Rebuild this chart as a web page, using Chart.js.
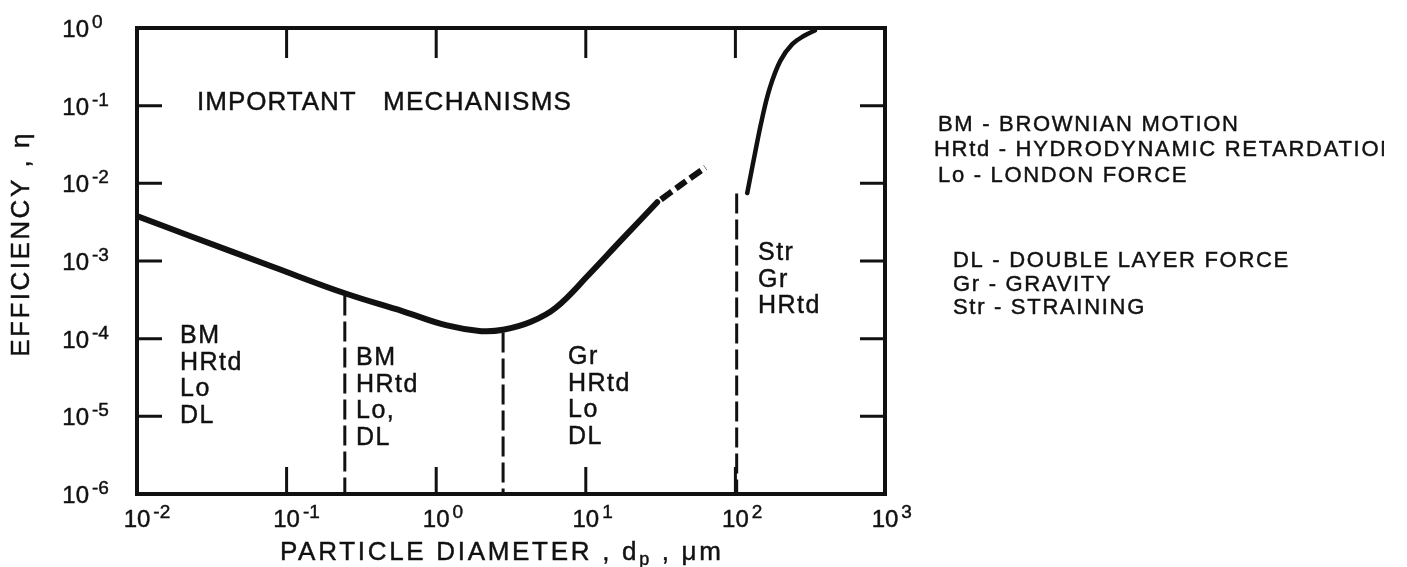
<!DOCTYPE html>
<html>
<head>
<meta charset="utf-8">
<script src="https://cdn.jsdelivr.net/npm/chart.js@4.4.1/dist/chart.umd.min.js"></script>
<style>
    html, body { margin: 0; padding: 0; background: #fff; }
    #wrap { width: 1407px; height: 567px; position: relative; }
</style>
</head>
<body>
<div id="wrap"><canvas id="eff"></canvas></div>
<script>
// ─────────────────────────────
// DATA
// ─────────────────────────────
const curveX = [0.01, 0.0226, 0.0824, 0.245, 0.6, 1.18, 2.0, 2.8, 4.3, 6.3, 10.5, 17, 30];
const curveY = [3.8e-3, 2.1e-3, 8.3e-4, 3.84e-4, 2.25e-4, 1.48e-4, 1.25e-4, 1.3e-4, 1.65e-4, 2.5e-4, 6.7e-4, 1.8e-3, 5.7e-3];

const dashX = [30, 44, 63];
const dashY = [5.7e-3, 9.8e-3, 1.6e-2];

const strX = [120, 135, 150, 170, 200, 240, 290, 340];
const strY = [7.5e-3, 2.4e-2, 6.5e-2, 0.17, 0.38, 0.62, 0.80, 0.93];

// zone boundaries: x position and where the dashed line starts at the top
const bounds = [0.245, 2.8, 102];
const boundTop = [3.6e-4, 1.2e-4, 7.4e-3];

const xDecades = [-2, -1, 0, 1, 2, 3];
const yDecades = [0, -1, -2, -3, -4, -5, -6];

const zoneText = [
    ["BM", "HRtd", "Lo", "DL"],
    ["BM", "HRtd", "Lo,", "DL"],
    ["Gr", "HRtd", "Lo", "DL"],
    ["Str", "Gr", "HRtd"]
];

const keyText = [
    "BM - BROWNIAN MOTION",
    "HRtd - HYDRODYNAMIC RETARDATION",
    "Lo - LONDON FORCE",
    "DL - DOUBLE LAYER FORCE",
    "Gr - GRAVITY",
    "Str - STRAINING"
];

// ─────────────────────────────
// HELPERS
// ─────────────────────────────
const INK = "#111";
const FONT = '"Liberation Sans", Arial, sans-serif';

function pts(xs, ys) {
    return xs.map((x, i) => ({ x: x, y: ys[i] }));
}

// filled + thin stroke, to get the heavier lettering of the scan
function ink(ctx, s, x, y) {
    ctx.fillText(s, x, y);
    ctx.strokeText(s, x, y);
}

function txt(ctx, s, x, y, size, ls, align) {
    ctx.font = size + "px " + FONT;
    ctx.letterSpacing = ls + "px";
    ctx.textAlign = align || "left";
    ink(ctx, s, x, y);
}

function powLabel(ctx, e, x, y, anchor) {
    ctx.letterSpacing = "0px";
    ctx.textAlign = "left";
    ctx.font = "24px " + FONT;
    const bw = ctx.measureText("10").width;
    const bx = anchor === "right" ? x - bw : x - bw / 2;
    ink(ctx, "10", bx, y);
    ctx.font = "19px " + FONT;
    ink(ctx, String(e), bx + bw + 3, y - 9);
}

// ─────────────────────────────
// FRAME, TICKS, TEXT
// ─────────────────────────────
const inkPlugin = {
    id: "ink",
    afterDatasetsDraw(chart) {
        const { ctx, chartArea: a, scales } = chart;
        const sx = scales.x, sy = scales.y;
        ctx.save();
        ctx.fillStyle = INK;
        ctx.strokeStyle = INK;
        ctx.lineCap = "butt";

        // box
        ctx.lineWidth = 4;
        ctx.strokeRect(a.left, a.top, a.right - a.left, a.bottom - a.top);

        // inner ticks
        ctx.lineWidth = 3;
        ctx.beginPath();
        xDecades.slice(1, -1).forEach(d => {
            const px = sx.getPixelForValue(Math.pow(10, d));
            ctx.moveTo(px, a.top); ctx.lineTo(px, a.top + 30);
            ctx.moveTo(px, a.bottom); ctx.lineTo(px, a.bottom - 27);
        });
        yDecades.slice(1, -1).forEach(d => {
            const py = sy.getPixelForValue(Math.pow(10, d));
            ctx.moveTo(a.left, py); ctx.lineTo(a.left + 25, py);
            ctx.moveTo(a.right, py); ctx.lineTo(a.right - 25, py);
        });
        ctx.stroke();

        ctx.lineWidth = 0.45;

        // tick labels
        xDecades.forEach(d => {
            powLabel(ctx, d, sx.getPixelForValue(Math.pow(10, d)), a.bottom + 33, "center");
        });
        yDecades.forEach(d => {
            powLabel(ctx, d, 89, sy.getPixelForValue(Math.pow(10, d)) + 9, "right");
        });

        // axis titles
        ctx.font = "26px " + FONT;
        ctx.letterSpacing = "2.7px";
        ctx.textAlign = "left";
        let tx = 280;
        const ty = 560;
        const p1 = "PARTICLE DIAMETER , d";
        ink(ctx, p1, tx, ty);
        tx += ctx.measureText(p1).width;
        ctx.font = "18px " + FONT;
        ink(ctx, "p", tx, ty + 5);
        tx += ctx.measureText("p").width;
        ctx.font = "26px " + FONT;
        ink(ctx, " , \u03bcm", tx, ty);

        ctx.save();
        ctx.translate(29, 244);
        ctx.rotate(-Math.PI / 2);
        txt(ctx, "EFFICIENCY , \u03b7", 0, 0, 26, 2.5, "center");
        ctx.restore();

        // in-plot text
        txt(ctx, "IMPORTANT", 197, 110, 26, 1, "left");
        txt(ctx, "MECHANISMS", 383, 110, 26, 1.3, "left");

        const zoneAt = [[180, 343], [356, 365], [568, 364], [758, 260]];
        zoneText.forEach((lines, i) => {
            lines.forEach((s, j) => {
                txt(ctx, s, zoneAt[i][0], zoneAt[i][1] + j * 26.5, 25, 1.5, "left");
            });
        });

        // key on the right (scan cuts the long line off)
        const keyAt = [[938, 131], [934, 156], [938, 182], [953, 267], [953, 291], [953, 314]];
        ctx.save();
        ctx.beginPath();
        ctx.rect(0, 0, 1384, 567);
        ctx.clip();
        keyText.forEach((s, i) => {
            txt(ctx, s, keyAt[i][0], keyAt[i][1], 22, 1.7, "left");
        });
        ctx.restore();

        ctx.restore();
    }
};

// ─────────────────────────────
// CHART
// ─────────────────────────────
const boundSets = bounds.map((b, i) => ({
    data: [{ x: b, y: boundTop[i] }, { x: b, y: 1e-6 }],
    borderColor: INK,
    borderWidth: 3,
    borderDash: [20, 6],
    tension: 0
}));

new Chart(document.getElementById("eff"), {
    type: "scatter",
    data: {
        datasets: [
            {
                data: pts(curveX, curveY),
                borderColor: INK,
                borderWidth: 6,
                tension: 0.4,
                borderCapStyle: "round"
            },
            {
                data: pts(dashX, dashY),
                borderColor: INK,
                borderWidth: 6,
                tension: 0.3,
                borderDash: [13, 5],
                borderDashOffset: 13
            },
            {
                data: pts(strX, strY),
                borderColor: INK,
                borderWidth: 4.5,
                tension: 0.4,
                borderCapStyle: "round"
            },
            ...boundSets
        ]
    },
    options: {
        responsive: true,
        maintainAspectRatio: false,
        animation: false,
        showLine: true,
        elements: { point: { radius: 0, hoverRadius: 0 } },
        layout: { padding: { left: 137, right: 522, top: 28, bottom: 73 } },
        plugins: {
            legend: { display: false },
            tooltip: { enabled: false }
        },
        scales: {
            x: { type: "logarithmic", min: 0.01, max: 1000, display: false },
            y: { type: "logarithmic", min: 1e-6, max: 1, display: false }
        }
    },
    plugins: [inkPlugin]
});
</script>
</body>
</html>
